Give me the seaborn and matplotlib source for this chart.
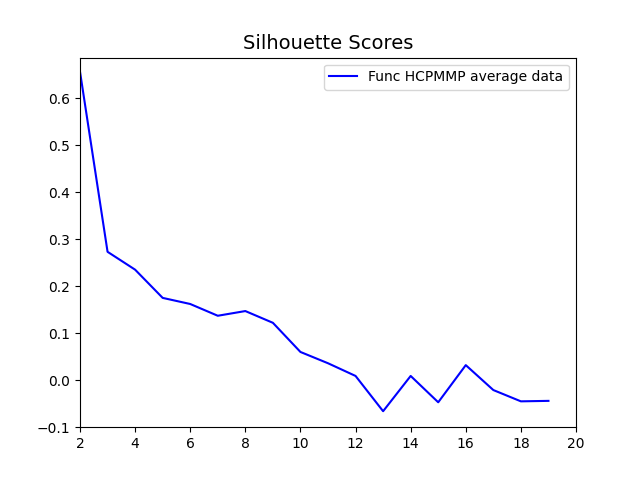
import matplotlib
matplotlib.use("Agg")
import matplotlib.pyplot as plt
import seaborn as sns

n_clusters = list(range(2, 20))
scores = [0.656, 0.273, 0.235, 0.175, 0.162, 0.137, 0.147, 0.122, 0.060,
          0.036, 0.009, -0.066, 0.009, -0.047, 0.032, -0.021, -0.045, -0.044]

fig, ax = plt.subplots(figsize=(6.4, 4.8), dpi=100)
sns.lineplot(x=n_clusters, y=scores, color="blue", label="Func HCPMMP average data", ax=ax)
ax.set_title("Silhouette Scores", fontsize=14)
ax.set_xlim(2, 20)
ax.set_ylim(-0.1, 0.686)
ax.set_xticks(range(2, 21, 2))
ax.legend(loc="upper right")
plt.savefig("out.png")
